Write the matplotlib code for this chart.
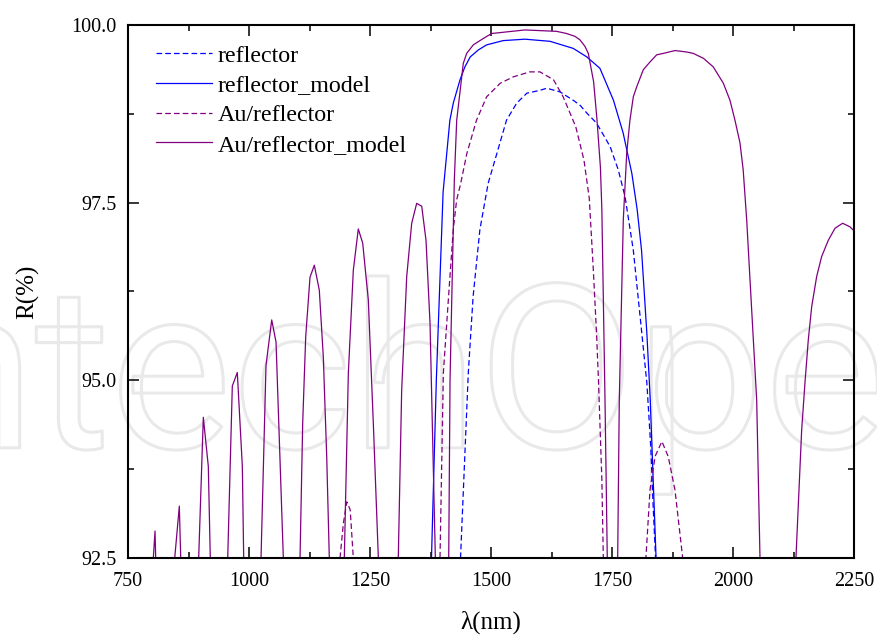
import matplotlib
matplotlib.use('Agg')
import matplotlib.pyplot as plt
import matplotlib.patheffects as pe
from matplotlib.ticker import MultipleLocator, FormatStrFormatter

# values (wavelength in nm, reflectance in %)
# points below 92.5 only carry the line under the bottom of the axes
refl_x = [1437, 1453, 1463, 1477, 1494, 1512, 1532, 1553, 1574, 1601, 1615,
          1642, 1670, 1684, 1698, 1718, 1746, 1763, 1777, 1794, 1808, 1822,
          1830, 1835, 1840]
refl_y = [92.5, 95.1, 96.18, 97.12, 97.77, 98.19, 98.66, 98.90, 99.04, 99.08,
          99.11, 99.06, 98.94, 98.87, 98.76, 98.62, 98.29, 97.96, 97.58, 96.83,
          95.90, 94.96, 94.07, 93.22, 92.5]

refl_model_x = [1377, 1387, 1401, 1415, 1422, 1436, 1446, 1457, 1474, 1491,
                1525, 1570, 1622, 1670, 1698, 1725, 1753, 1773, 1791, 1802,
                1811, 1822, 1829, 1841]
refl_model_y = [92.5, 95.0, 97.65, 98.66, 98.9, 99.23, 99.41, 99.55, 99.65,
                99.72, 99.78, 99.80, 99.77, 99.67, 99.55, 99.39, 98.94, 98.48,
                97.91, 97.4, 96.83, 95.66, 94.72, 92.5]

au_x = [1188, 1195, 1202, 1209, 1215.5, 1300,
        1394.6, 1401.5, 1414, 1422, 1429, 1437, 1450, 1470, 1491, 1519, 1546,
        1580, 1601, 1629, 1649, 1675, 1692, 1703, 1711, 1718, 1722, 1729, 1732,
        1780,
        1820, 1828.5, 1839, 1853, 1866, 1880, 1896]
au_y = [92.5, 92.99, 93.29, 93.18, 92.5, 91.0,
        92.5, 95.1, 96.35, 97.12, 97.54, 97.76, 98.19, 98.66, 98.99, 99.18,
        99.27, 99.34, 99.34, 99.23, 98.99, 98.57, 98.10, 97.56, 96.6, 95.66,
        95.0, 93.6, 92.5,
        91.0,
        92.5, 93.46, 93.93, 94.14, 93.93, 93.46, 92.5]

au_model_x = [780,
              802.3, 805.8, 807.2, 827,
              846.5, 856, 858.9, 877,
              896, 905.6, 915.9, 920, 938,
              956, 965.5, 975.8, 986.2, 989, 1007,
              1024.8, 1035.1, 1046.9, 1055.8, 1070.9, 1088,
              1105.4, 1110.9, 1117.1, 1126, 1134.9, 1145.2, 1153.5, 1160.5,
              1165.9, 1181,
              1196.9, 1205.2, 1215.5, 1225.8, 1234.9, 1246.5, 1256.8, 1267.2,
              1288,
              1308.4, 1315.4, 1325.8, 1336.1, 1346.4, 1356.8, 1365.7, 1374,
              1385, 1399,
              1412.6, 1415.3, 1424.2, 1429.1, 1442.7, 1449.7, 1463.4, 1484,
              1501.4, 1570.2, 1635.7, 1656, 1673.5, 1683.8, 1694, 1701, 1712,
              1719, 1726, 1729, 1735.5, 1740.2,
              1751,
              1761.7, 1765, 1773.3, 1780.3, 1787, 1794, 1801, 1814.6, 1828.5,
              1842.3, 1856, 1880, 1904, 1917.9, 1939, 1959.2, 1980, 1993.7,
              2004, 2014.4, 2021, 2028.2, 2048.9, 2055.7, 2093,
              2130, 2141.8, 2149, 2155.5, 2162.6, 2172.8, 2183, 2196.8, 2210.7,
              2226.5, 2241.6, 2252]
au_model_y = [91.0,
              92.5, 92.88, 92.5, 91.0,
              92.5, 93.23, 92.5, 91.0,
              92.5, 94.48, 93.79, 92.5, 91.0,
              92.5, 94.92, 95.11, 93.79, 92.5, 91.0,
              92.5, 95.21, 95.85, 95.54, 92.5, 91.0,
              92.5, 94.40, 95.61, 96.45, 96.62, 96.27, 95.33, 93.93, 92.5, 91.0,
              92.5, 95.10, 96.55, 97.13, 96.93, 96.13, 94.40, 92.5, 91.0,
              92.5, 94.86, 96.46, 97.21, 97.49, 97.45, 96.97, 95.8, 92.5, 91.0,
              92.5, 95.0, 97.82, 98.66, 99.46, 99.6, 99.72, 99.81, 99.88,
              99.93, 99.91, 99.88, 99.84, 99.79, 99.70, 99.6, 99.2, 98.66,
              98.0, 97.4, 94.72, 92.5,
              91.0,
              92.5, 94.72, 97.26, 98.19, 98.66, 98.99, 99.13, 99.37, 99.48,
              99.58, 99.60, 99.64, 99.62, 99.60, 99.53, 99.41, 99.18, 98.94,
              98.66, 98.34, 97.96, 97.26, 94.72, 92.5, 91.0,
              92.5, 94.30, 95.0, 95.57, 96.04, 96.46, 96.74, 96.97, 97.14,
              97.21, 97.16, 97.09]

labels = ['reflector', 'reflector_model', 'Au/reflector', 'Au/reflector_model']

BLUE = '#0000ff'
PURPLE = '#800080'

plt.rcParams['font.family'] = ['Liberation Serif', 'DejaVu Serif']

fig = plt.figure(figsize=(8.78, 6.37), dpi=100)
ax = fig.add_axes([0.1458, 0.124, 0.8269, 0.8368])

# faint publisher watermark behind the curves
ax.text(-0.175, 0.297, 'IntechOpen', transform=fig.transFigure, fontsize=165,
        family='Roboto', color='white', zorder=0.5, clip_on=False,
        path_effects=[pe.Stroke(linewidth=2.2, foreground='#e9e9e9')])

ax.plot(refl_x, refl_y, color=BLUE, lw=0.9, dashes=(4.5, 2.5), label=labels[0])
ax.plot(refl_model_x, refl_model_y, color=BLUE, lw=0.9, label=labels[1])
ax.plot(au_x, au_y, color=PURPLE, lw=0.9, dashes=(4.5, 2.5), label=labels[2])
ax.plot(au_model_x, au_model_y, color=PURPLE, lw=0.9, label=labels[3])

ax.set_xlim(750, 2250)
ax.set_ylim(92.5, 100.0)
ax.xaxis.set_major_locator(MultipleLocator(250))
ax.xaxis.set_minor_locator(MultipleLocator(125))
ax.yaxis.set_major_locator(MultipleLocator(2.5))
ax.yaxis.set_minor_locator(MultipleLocator(1.25))
ax.yaxis.set_major_formatter(FormatStrFormatter('%.1f'))

for s in ax.spines.values():
    s.set_linewidth(1.5)
ax.tick_params(which='both', direction='in', top=True, right=True,
               labelsize=14.5, width=1.1)
ax.tick_params(which='major', length=8)
ax.tick_params(which='minor', length=4.5)
ax.tick_params(axis='x', which='major', pad=10)
ax.tick_params(axis='y', which='major', pad=8.5)

ax.set_xlabel('λ(nm)', fontsize=18, labelpad=14)
ax.set_ylabel('R(%)', fontsize=18, labelpad=23)

ax.legend(loc='upper left', bbox_to_anchor=(0.039, 0.963), frameon=False,
          fontsize=17.3, handlelength=2.3, handletextpad=0.25,
          labelspacing=0.33, borderaxespad=0, borderpad=0)

fig.savefig('out.png', dpi=100)
